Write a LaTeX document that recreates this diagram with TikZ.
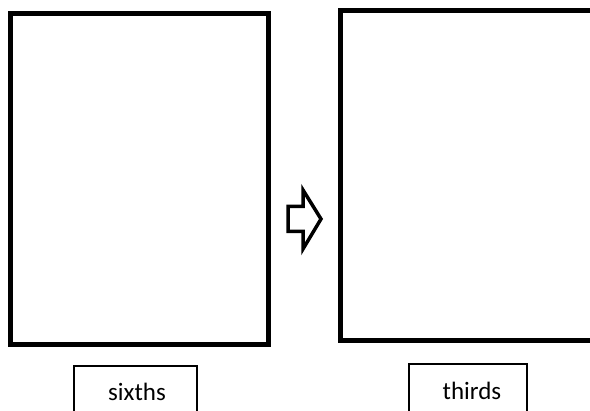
\documentclass[tikz,border=0pt]{standalone}
\usepackage{fontspec}
\setmainfont{Carlito}
\begin{document}
\begin{tikzpicture}[x=1pt,y=-1pt,
  bigframe/.style={draw=black,line width=5pt},
  labelbox/.style={draw=black,line width=1.8pt},
  blockarrow/.style={draw=black,line width=3.5pt,fill=white,line join=miter}]
\useasboundingbox (0,0) rectangle (590,411);
\fill[white] (0,0) rectangle (590,411);
% frames
\draw[bigframe] (10.5,13.5) rectangle (268.5,345);
\node[inner sep=0pt] (left) at (139.5,179) {};
\draw[bigframe] (340,11) rectangle (600,341);
\node[inner sep=0pt] (right) at (470,176) {};
% block arrow
\draw[blockarrow] (288,206.5) -- (303,206.5) -- (303,190) -- (321,219) -- (303,249) -- (303,231.5) -- (288,231.5) -- cycle;
% labels
\draw[labelbox] (74,366) rectangle (197,420);
\node[font=\fontsize{25}{25}\selectfont] (sixths) at (137,392) {sixths};
\draw[labelbox] (409,364) rectangle (527,420);
\node[font=\fontsize{25}{25}\selectfont] (thirds) at (472,391) {thirds};
\end{tikzpicture}
\end{document}
